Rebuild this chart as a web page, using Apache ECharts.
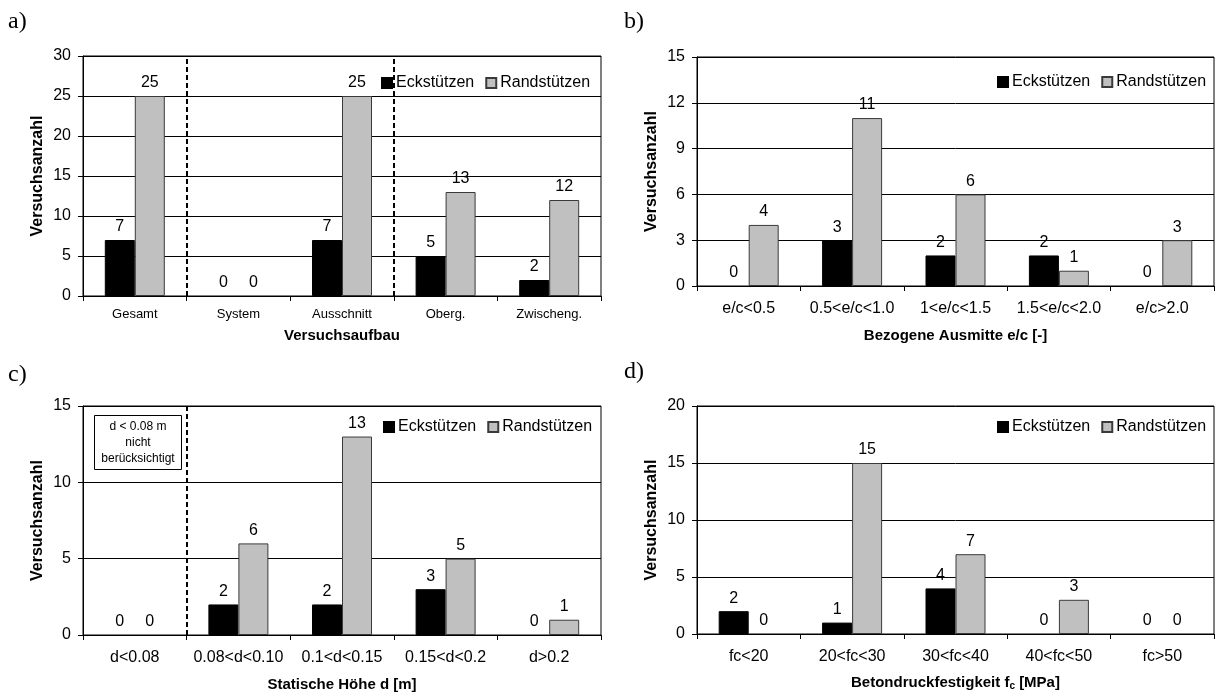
<!DOCTYPE html>
<html>
<head>
<meta charset="utf-8">
<script src="https://cdn.jsdelivr.net/npm/echarts@6/dist/echarts.min.js"></script>
<style>
  html, body { margin: 0; padding: 0; background: #fff; }
  #chart { width: 1216px; height: 693px; }
</style>
</head>
<body>
<div id="chart"></div>
<script>
// Series names
const seriesNames = ['Eckstützen', 'Randstützen'];

// a) Versuchsaufbau
const catsA = ['Gesamt', 'System', 'Ausschnitt', 'Oberg.', 'Zwischeng.'];
const eckA = [7, 0, 7, 5, 2];
const randA = [25, 0, 25, 13, 12];

// b) Bezogene Ausmitte e/c
const catsB = ['e/c<0.5', '0.5<e/c<1.0', '1<e/c<1.5', '1.5<e/c<2.0', 'e/c>2.0'];
const eckB = [0, 3, 2, 2, 0];
const randB = [4, 11, 6, 1, 3];

// c) Statische Höhe d
const catsC = ['d<0.08', '0.08<d<0.10', '0.1<d<0.15', '0.15<d<0.2', 'd>0.2'];
const eckC = [0, 2, 2, 3, 0];
const randC = [0, 6, 13, 5, 1];

// d) Betondruckfestigkeit fc
const catsD = ['fc<20', '20<fc<30', '30<fc<40', '40<fc<50', 'fc>50'];
const eckD = [2, 1, 4, 0, 0];
const randD = [0, 15, 7, 3, 0];

// Category boundaries marked with dashed separators (in category units)
const separatorsA = [1, 3];
const separatorsC = [1];

const FONT = 'Liberation Sans, Arial, sans-serif';
const SERIF = 'Liberation Serif, Times New Roman, serif';

const panels = [
  { cats: catsA, eck: eckA, rand: randA, max: 30, interval: 5, xName: 'Versuchsaufbau',
    grid: { left: 83, top: 56, width: 518, height: 240 }, catFont: 13, catMargin: 12, nameGap: 32,
    legend: { left: 381, top: 75 }, seps: separatorsA },
  { cats: catsB, eck: eckB, rand: randB, max: 15, interval: 3, xName: 'Bezogene Ausmitte e/c [-]',
    grid: { left: 697, top: 57, width: 517, height: 229 }, catFont: 16, catMargin: 15, nameGap: 42,
    legend: { left: 997, top: 74 }, seps: null },
  { cats: catsC, eck: eckC, rand: randC, max: 15, interval: 5, xName: 'Statische Höhe d [m]',
    grid: { left: 83, top: 406, width: 518, height: 229 }, catFont: 16, catMargin: 15, nameGap: 42,
    legend: { left: 383, top: 419 }, seps: separatorsC },
  { cats: catsD, eck: eckD, rand: randD, max: 20, interval: 5,
    xName: '{b|Betondruckfestigkeit f}{s|c}{b| [MPa]}',
    grid: { left: 697, top: 406, width: 517, height: 228 }, catFont: 16, catMargin: 15, nameGap: 41,
    legend: { left: 997, top: 419 }, seps: null }
];

const grids = [], xAxes = [], yAxes = [], series = [], legends = [];

// Zero counts get no outline so only the baseline shows there
function barData(values, border) {
  return values.map(v => v === 0 ? { value: v, itemStyle: { borderWidth: 0 } } : { value: v });
}

panels.forEach((p, i) => {
  grids.push(Object.assign({ show: true, borderColor: '#000', borderWidth: 1, backgroundColor: '#fff' }, p.grid));
  xAxes.push({
    type: 'category', gridIndex: i, data: p.cats,
    axisLine: { lineStyle: { color: '#000', width: 1 } },
    axisTick: { show: true, length: 5, lineStyle: { color: '#000' } },
    axisLabel: { color: '#000', fontFamily: FONT, fontSize: p.catFont, margin: p.catMargin,
                 interval: 0, hideOverlap: false },
    name: p.xName, nameLocation: 'middle', nameGap: p.nameGap,
    nameTextStyle: {
      color: '#000', fontFamily: FONT, fontSize: 15, fontWeight: 'bold',
      rich: {
        b: { color: '#000', fontFamily: FONT, fontSize: 15, fontWeight: 'bold' },
        s: { color: '#000', fontFamily: FONT, fontSize: 10, fontWeight: 'bold', verticalAlign: 'bottom', padding: [6, 0, 0, 0] }
      }
    }
  });
  yAxes.push({
    type: 'value', gridIndex: i, min: 0, max: p.max, interval: p.interval,
    axisLine: { show: true, lineStyle: { color: '#000' } },
    axisTick: { show: true, length: 5, lineStyle: { color: '#000' } },
    axisLabel: { color: '#000', fontFamily: FONT, fontSize: 16, margin: 12 },
    splitLine: { show: true, lineStyle: { color: '#000', width: 1 } },
    name: 'Versuchsanzahl', nameLocation: 'middle', nameGap: 37,
    nameTextStyle: { color: '#000', fontFamily: FONT, fontSize: 16, fontWeight: 'bold' }
  });
  const labelCfg = { show: true, position: 'top', distance: 5, color: '#000', fontFamily: FONT, fontSize: 16 };
  series.push({
    name: seriesNames[0], type: 'bar', xAxisIndex: i, yAxisIndex: i, data: barData(p.eck),
    barWidth: 30, barGap: '0%',
    itemStyle: { color: '#000', borderColor: '#000', borderWidth: 1 },
    label: labelCfg, animation: false
  });
  series.push({
    name: seriesNames[1], type: 'bar', xAxisIndex: i, yAxisIndex: i, data: barData(p.rand),
    barWidth: 30, barGap: '0%',
    itemStyle: { color: '#c0c0c0', borderColor: '#3a3a3a', borderWidth: 1 },
    label: labelCfg, animation: false
  });
  legends.push({
    data: seriesNames, left: p.legend.left, top: p.legend.top, orient: 'horizontal',
    itemWidth: 10, itemHeight: 10, itemGap: 11, padding: 0, icon: 'rect',
    itemStyle: {},
    textStyle: { color: '#000', fontFamily: FONT, fontSize: 16, padding: [0, 0, 0, -1] },
    selectedMode: false
  });
});

// Dashed separators sit on a hidden value axis spanning the five categories
panels.forEach((p, i) => {
  if (!p.seps) return;
  const xi = xAxes.length;
  xAxes.push({ type: 'value', gridIndex: i, min: 0, max: p.cats.length, show: false });
  series.push({
    name: 'sep' + i, type: 'scatter', xAxisIndex: xi, yAxisIndex: i, data: [],
    markLine: {
      silent: true, symbol: ['none', 'none'], animation: false,
      label: { show: false },
      lineStyle: { color: '#000', width: 2, type: [5, 3] },
      data: p.seps.map(v => ({ xAxis: v }))
    }
  });
});

const letterStyle = { fill: '#000', font: '24px ' + SERIF };
const graphic = [
  { type: 'text', left: 8, top: 10, style: Object.assign({ text: 'a)' }, letterStyle) },
  { type: 'text', left: 624, top: 10, style: Object.assign({ text: 'b)' }, letterStyle) },
  { type: 'text', left: 8, top: 363, style: Object.assign({ text: 'c)' }, letterStyle) },
  { type: 'text', left: 624, top: 360, style: Object.assign({ text: 'd)' }, letterStyle) },
  {
    type: 'group', left: 94, top: 415,
    children: [
      { type: 'rect', shape: { x: 0, y: 0, width: 87, height: 54 },
        style: { fill: '#fff', stroke: '#000', lineWidth: 1 } },
      { type: 'text', x: 43.5, y: 27,
        style: { text: 'd < 0.08 m\nnicht\nberücksichtigt', fill: '#000',
                 font: '12px ' + FONT, align: 'center', verticalAlign: 'middle', lineHeight: 16 } }
    ]
  }
];

const chart = echarts.init(document.getElementById('chart'), null, { renderer: 'canvas' });
chart.setOption({
  animation: false,
  backgroundColor: '#fff',
  grid: grids,
  xAxis: xAxes,
  yAxis: yAxes,
  legend: legends,
  series: series,
  graphic: graphic
});
</script>
</body>
</html>
